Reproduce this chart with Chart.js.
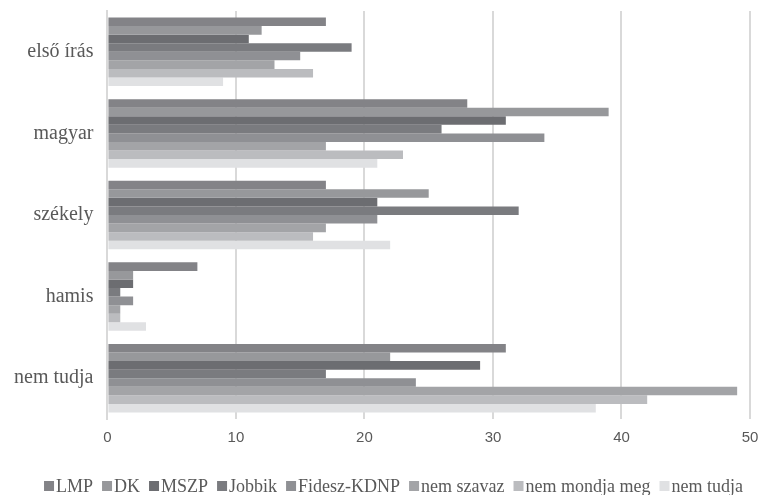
<!DOCTYPE html>
<html>
<head>
<meta charset="utf-8">
<script src="https://cdn.jsdelivr.net/npm/chart.js@4/dist/chart.umd.min.js"></script>
<style>
  html, body { margin: 0; padding: 0; background: #fff; }
  #wrap { width: 763px; height: 495px; position: relative; }
</style>
</head>
<body>
<div id="wrap"><canvas id="chart"></canvas></div>
<script>
const categories = ["első írás", "magyar", "székely", "hamis", "nem tudja"];
const seriesNames = ["LMP", "DK", "MSZP", "Jobbik", "Fidesz-KDNP", "nem szavaz", "nem mondja meg", "nem tudja"];
const lmp = [17, 28, 17, 7, 31];
const dk = [12, 39, 25, 2, 22];
const mszp = [11, 31, 21, 2, 29];
const jobbik = [19, 26, 32, 1, 17];
const fidesz = [15, 34, 21, 2, 24];
const nemSzavaz = [13, 17, 17, 1, 49];
const nemMondjaMeg = [16, 23, 16, 1, 42];
const nemTudja = [9, 21, 22, 3, 38];
const xTicks = [0, 10, 20, 30, 40, 50];

const colors = ["#838387", "#97989b", "#6c6d71", "#7a7b7f", "#8f9094", "#a3a4a7", "#bbbcbf", "#e0e1e3"];
const allValues = [lmp, dk, mszp, jobbik, fidesz, nemSzavaz, nemMondjaMeg, nemTudja];

// legend drawn by hand so the box sits right against its text, like the original
const tightLegend = {
    id: "tightLegend",
    afterDraw(chart) {
        const c = chart.ctx;
        const font = "18px 'Liberation Serif'";
        const box = 10, gap = 2, spacing = 9;
        c.save();
        c.font = font;
        const items = chart.data.datasets.map(ds => ({
            text: ds.label,
            color: ds.backgroundColor,
            w: box + gap + c.measureText(ds.label).width
        }));
        const total = items.reduce((s, it) => s + it.w, 0) + spacing * (items.length - 1);
        let x = (chart.width - total) / 2 + 12;
        const y = 486;
        c.textBaseline = "middle";
        items.forEach(it => {
            c.fillStyle = it.color;
            c.fillRect(x, y - box / 2, box, box);
            c.fillStyle = "#595959";
            c.fillText(it.text, x + box + gap, y + 1);
            x += it.w + spacing;
        });
        c.restore();
    }
};

const ctx = document.getElementById("chart").getContext("2d");
new Chart(ctx, {
    type: "bar",
    data: {
        labels: categories,
        datasets: seriesNames.map((name, i) => ({
            label: name,
            data: allValues[i],
            backgroundColor: colors[i],
            borderWidth: 0,
            categoryPercentage: 0.84,
            barPercentage: 1.0
        }))
    },
    options: {
        indexAxis: "y",
        responsive: true,
        maintainAspectRatio: false,
        animation: false,
        layout: { padding: { left: 0, right: 13, top: 11, bottom: 38 } },
        scales: {
            x: {
                min: 0,
                max: 50,
                afterBuildTicks: axis => { axis.ticks = xTicks.map(v => ({ value: v })); },
                afterFit: scale => { scale.paddingRight = 0; },
                grid: { color: "#d9d9d9", lineWidth: 2, drawTicks: false },
                border: { display: false },
                ticks: {
                    color: "#595959",
                    padding: 10,
                    font: { family: "Liberation Sans", size: 15 }
                }
            },
            y: {
                grid: { display: false, drawTicks: false },
                border: { display: true, color: "#d9d9d9", width: 2 },
                afterFit: scale => { scale.paddingTop = 0; scale.paddingBottom = 0; },
                ticks: {
                    color: "#595959",
                    padding: 14,
                    font: { family: "Liberation Serif", size: 20 }
                }
            }
        },
        plugins: {
            legend: { display: false },
            tooltip: { enabled: false }
        }
    },
    plugins: [tightLegend]
});
</script>
</body>
</html>
